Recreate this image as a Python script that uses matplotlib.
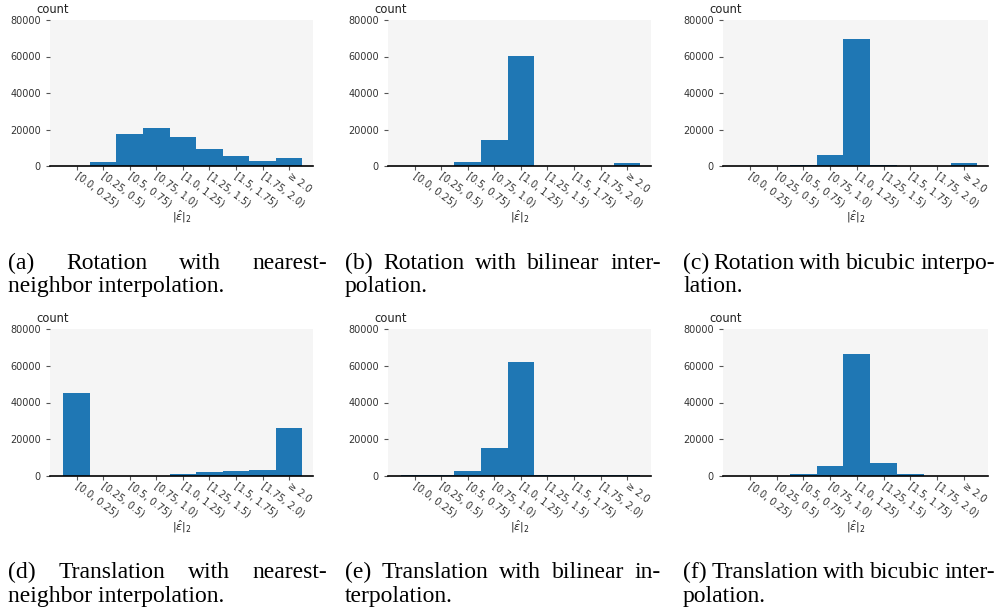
import numpy as np
import matplotlib.pyplot as plt

# bins of the error norm
labels = ['[0.0, 0.25)', '[0.25, 0.5)', '[0.5, 0.75)', '[0.75, 1.0)', '[1.0, 1.25)',
          '[1.25, 1.5)', '[1.5, 1.75)', '[1.75, 2.0)', '≥ 2.0']

# counts
rot_nearest = [0, 2200, 17500, 20800, 15900, 9300, 5500, 2700, 4400]
rot_bilinear = [0, 0, 2200, 14200, 60300, 0, 0, 0, 1600]
rot_bicubic = [0, 0, 700, 6000, 69600, 500, 0, 0, 1600]
trans_nearest = [45100, 200, 150, 150, 900, 2000, 2500, 3100, 26000]
trans_bilinear = [300, 300, 2700, 15100, 62000, 300, 300, 300, 300]
trans_bicubic = [200, 200, 900, 5300, 66400, 6900, 900, 200, 200]

captions = [
    ('(a) Rotation with nearest-', 'neighbor interpolation.'),
    ('(b) Rotation with bilinear inter-', 'polation.'),
    ('(c) Rotation with bicubic interpo-', 'lation.'),
    ('(d) Translation with nearest-', 'neighbor interpolation.'),
    ('(e) Translation with bilinear in-', 'terpolation.'),
    ('(f) Translation with bicubic inter-', 'polation.'),
]

W, H = 1002, 613
fig = plt.figure(figsize=(W / 100, H / 100), dpi=100)

# axes boxes in pixels: left, top, right, bottom
boxes = [(50, 20, 313, 166), (388, 20, 651, 166), (723, 20, 988, 166),
         (50, 329, 313, 476), (388, 329, 651, 476), (723, 329, 988, 476)]
series = [rot_nearest, rot_bilinear, rot_bicubic,
          trans_nearest, trans_bilinear, trans_bicubic]

x = np.arange(len(labels))
for (l, t, r, b), counts in zip(boxes, series):
    ax = fig.add_axes([l / W, 1 - b / H, (r - l) / W, (b - t) / H])
    ax.set_facecolor('#f5f5f5')
    ax.bar(x, counts, width=1.0, color='#1f77b4', zorder=2)
    ax.set_xlim(-1, 8.9)
    ax.set_ylim(0, 80000)
    ax.set_yticks([0, 20000, 40000, 60000, 80000])
    ax.set_xticks(x)
    ax.set_xticklabels(labels, rotation=-37, ha='left', va='center',
                       rotation_mode='anchor', fontsize=7, color='#333333')
    ax.tick_params(axis='y', labelsize=7, labelcolor='#333333', length=3,
                   color='#555555', width=0.8)
    ax.tick_params(axis='x', length=3, color='#555555', width=0.8, pad=3)
    for s in ['top', 'right', 'left']:
        ax.spines[s].set_visible(False)
    ax.spines['bottom'].set_linewidth(1.2)
    ax.spines['bottom'].set_zorder(3)
    ax.text(-0.05, 1.025, 'count', transform=ax.transAxes, fontsize=8.3,
            ha='left', va='bottom', color='#222222')
    ax.set_xlabel(r'$|\hat{\varepsilon}|_2$', fontsize=8, color='#222222', labelpad=0)

# captions, first line justified across the column
renderer = fig.canvas.get_renderer()
cols = [(8, 327), (345, 661), (683, 995)]
rows = [(269, 292), (578, 602)]
for i, (line1, line2) in enumerate(captions):
    x0, x1 = cols[i % 3]
    y1, y2 = rows[i // 3]
    words = line1.split()
    texts = [fig.text(0, 0, w, fontsize=17, family='Liberation Serif', va='baseline')
             for w in words]
    widths = [tx.get_window_extent(renderer).width for tx in texts]
    gap = (x1 - x0 - sum(widths)) / (len(words) - 1)
    pos = x0
    for tx, w in zip(texts, widths):
        tx.set_position((pos / W, 1 - y1 / H))
        pos += w + gap
    fig.text(x0 / W, 1 - y2 / H, line2, fontsize=17, family='Liberation Serif',
             va='baseline')

fig.savefig('out.png', dpi=100)
